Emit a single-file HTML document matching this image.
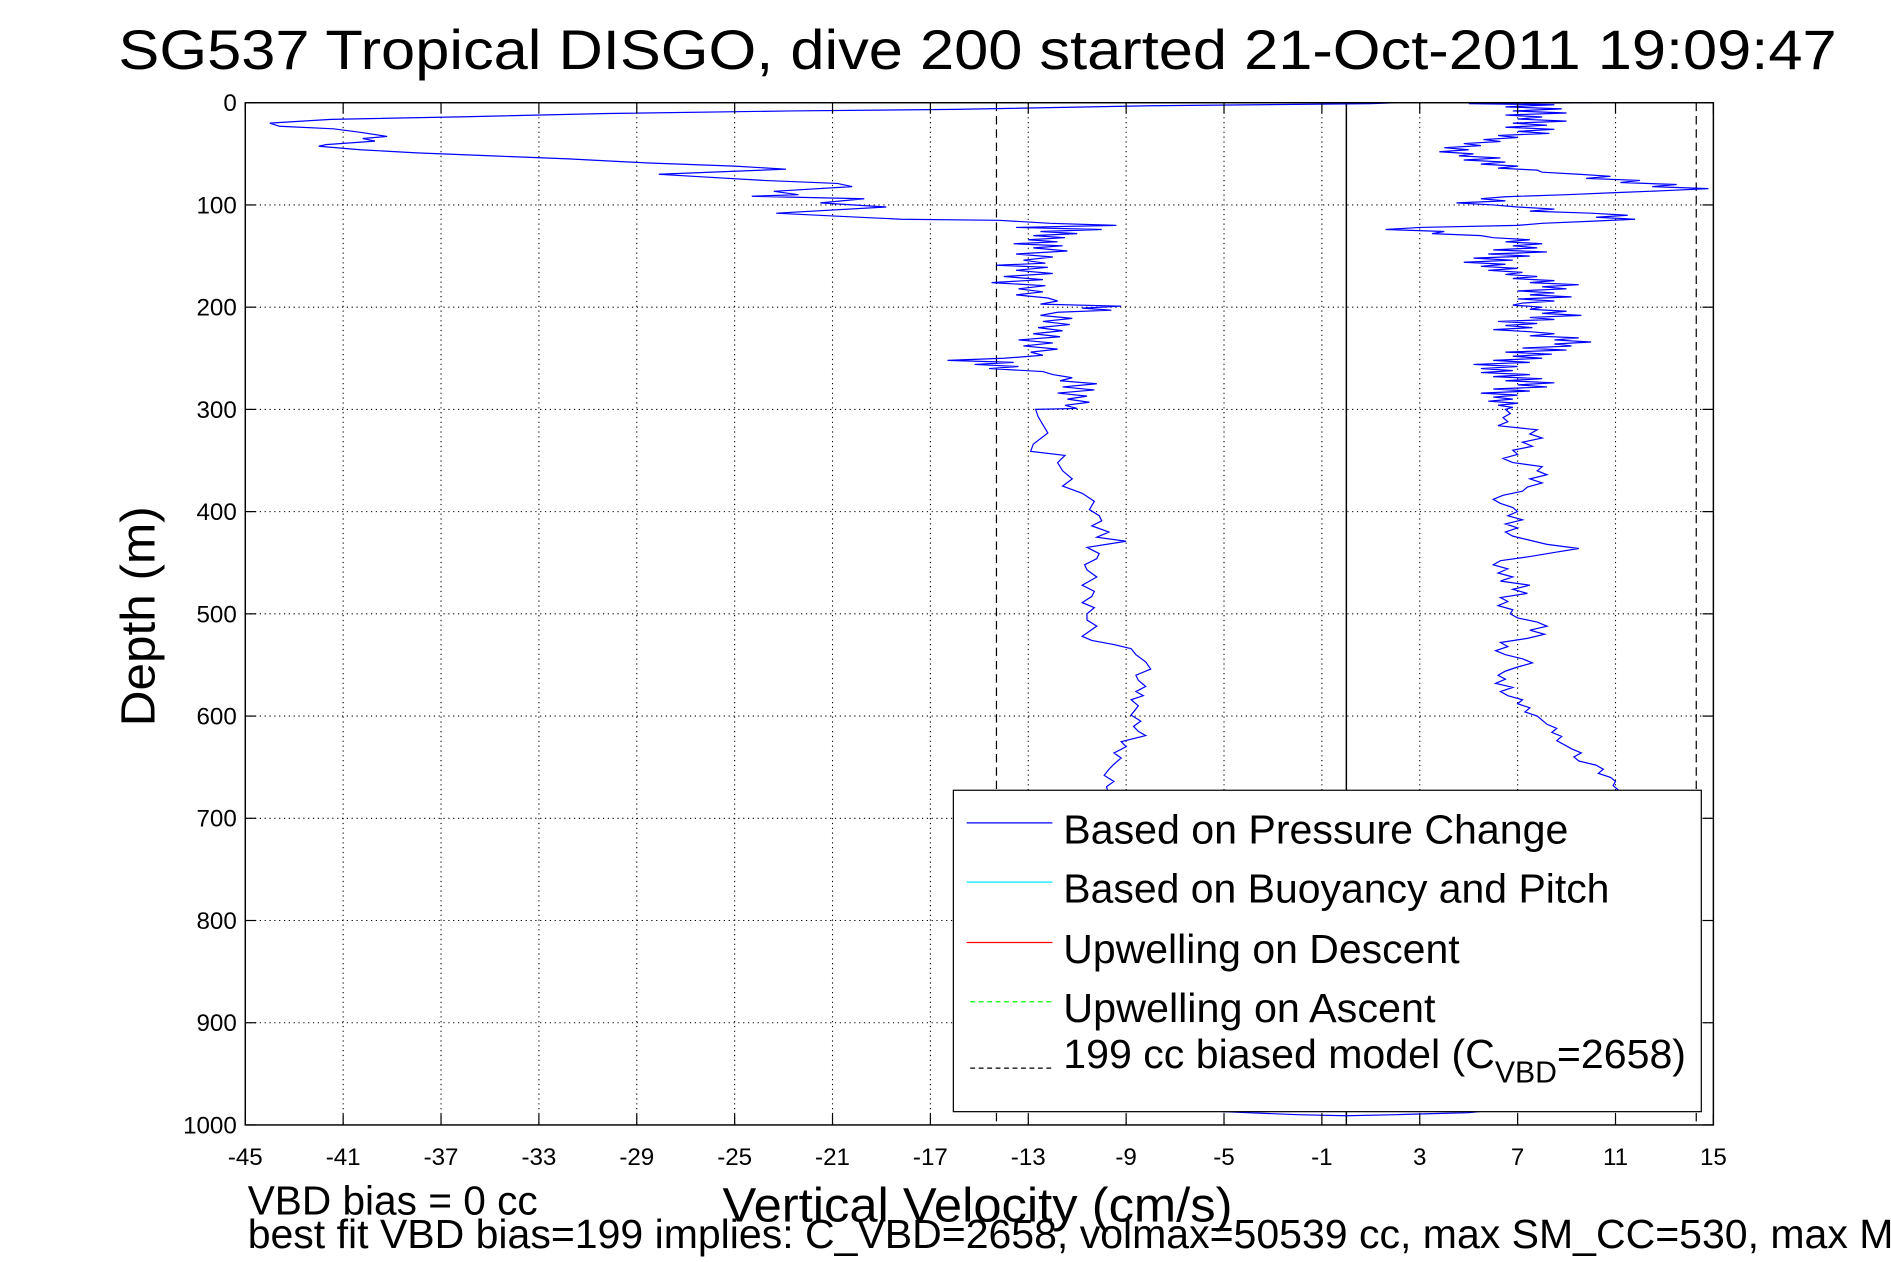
<!DOCTYPE html>
<html><head><meta charset="utf-8">
<style>
html,body{margin:0;padding:0;background:#fff;}
svg{display:block;font-family:"Liberation Sans",sans-serif;}
</style></head>
<body>
<svg id="chart" width="1891" height="1262" viewBox="0 0 1565 1044.4" xmlns="http://www.w3.org/2000/svg">
<rect x="0" y="0" width="1565" height="1044.4" fill="#fff"/>
<text x="98" y="57" font-size="46" textLength="1422" lengthAdjust="spacingAndGlyphs">SG537 Tropical DISGO, dive 200 started 21-Oct-2011 19:09:47</text>
<g id="grid"></g>
<g id="series"></g>
<g id="axes"></g>
<g id="legend">
<rect x="789" y="654" width="619" height="266" fill="#fff" stroke="#000" stroke-width="1"/>
<line x1="800" y1="681" x2="871" y2="681" stroke="#0000ff" stroke-width="1"/>
<text x="880" y="698" font-size="34" textLength="418" lengthAdjust="spacingAndGlyphs">Based on Pressure Change</text>
<line x1="800" y1="730" x2="871" y2="730" stroke="#00e5ff" stroke-width="1"/>
<text x="880" y="747" font-size="34" textLength="452" lengthAdjust="spacingAndGlyphs">Based on Buoyancy and Pitch</text>
<line x1="800" y1="780" x2="871" y2="780" stroke="#ff0000" stroke-width="1"/>
<text x="880" y="797" font-size="34" textLength="328" lengthAdjust="spacingAndGlyphs">Upwelling on Descent</text>
<line x1="803" y1="829" x2="871" y2="829" stroke="#00ff00" stroke-width="1" stroke-dasharray="4 3"/>
<text x="880" y="846" font-size="34" textLength="308" lengthAdjust="spacingAndGlyphs">Upwelling on Ascent</text>
<line x1="803" y1="884" x2="871" y2="884" stroke="#000" stroke-width="1" stroke-dasharray="4 3"/>
<text x="880" y="884" font-size="34">199 cc biased model (C<tspan font-size="25" dy="12">VBD</tspan><tspan dy="-12">=2658)</tspan></text>
</g>
<text transform="translate(128,510) rotate(-90)" text-anchor="middle" font-size="40" textLength="182" lengthAdjust="spacingAndGlyphs">Depth (m)</text>
<text x="598" y="1011" font-size="40" textLength="422" lengthAdjust="spacingAndGlyphs">Vertical Velocity (cm/s)</text>
<text x="205" y="1005" font-size="34" textLength="240" lengthAdjust="spacingAndGlyphs">VBD bias = 0 cc</text>
<text x="205" y="1033" font-size="34" textLength="1362" lengthAdjust="spacingAndGlyphs">best fit VBD bias=199 implies: C_VBD=2658, volmax=50539 cc, max SM_CC=530, max M</text>
</svg>
<script>
const xTicks = [-45,-41,-37,-33,-29,-25,-21,-17,-13,-9,-5,-1,3,7,11,15];
const yTicks = [0,100,200,300,400,500,600,700,800,900,1000];
const modelVel = [-14.3, 14.3];
const buoyancyVel = [0];
const descDepth = [0,1,3,6.5,8,10.5,13.7,16.3,20,23,25.5,29,33,35,37.6,41,42.5,46,49,52,55,59,62,65,70,72,76,79,82,86.6,90,91.5,94,98,102,108,111,114,115,118,120,
122,124,126,128,130,132,134,136,138,140,142,145,148,151,154,157,159,161,164,167,170,173,176,179,182,185,188,191,194,197,199,201,203,205,208,211,214,217,220,223,226,229,232,235,238,241,244,247,250,252,254,256,258,260,263,266,269,272,275,278,281,284,287,290,293,296,299,
300,307,315,323,334,341,345,352,360,368,375,382,390,398,404,409,414,420,425,429,435,441,446,452,457,464,472,478,483,489,494,500,506,512,517,522,526,530,534,540,547,554,560,565,571,576,580,584,590,599,605,610,615,619,625,630,636,641,647,652,658,664,669,
700,750,800,850,900,950,980,984,987,990,991];
const descVel = [2,1,-8,-16,-22.7,-30.2,-36,-41.5,-44,-43.6,-41.4,-40.3,-39.2,-40.2,-39.7,-41.7,-42,-40.3,-38,-34.9,-31.8,-28.5,-25,-22.9,-28.1,-26.7,-23.8,-20.8,-20.2,-23.4,-22.4,-24.3,-19.7,-21.5,-18.8,-23.3,-20.8,-18.2,-14.2,-12.1,-9.4,
-13.5,-10,-12.5,-11,-12.8,-11.5,-13,-11.8,-13.6,-11.6,-12.8,-11.4,-13.5,-12,-13.2,-12.3,-14.3,-12.2,-13.5,-12,-14,-12.4,-14.5,-12.3,-13.4,-12.4,-13.5,-12.2,-11.8,-12.5,-9.2,-10.8,-9.6,-11.8,-12.5,-11.2,-12.4,-11.3,-12.6,-11.6,-12.8,-11.7,-13.4,-12,-13.2,-11.8,-12.9,-12.4,-14,-16.3,-13.6,-15.2,-13.4,-14.6,-12.4,-12,-11.2,-11.7,-10.2,-11.6,-10.3,-11.8,-10.6,-11.4,-10.5,-11.5,-11,
-12.7,-12.6,-12.4,-12.2,-12.8,-12.9,-11.5,-11.8,-11.6,-11.2,-11.6,-10.8,-10.3,-10.5,-10.1,-10,-10.4,-9.7,-10.2,-9,-10.6,-10.1,-10.2,-10.7,-10.6,-10.2,-10.8,-10.3,-10.4,-10.8,-10.3,-10.6,-10.6,-10.2,-10.5,-10.8,-10.4,-9.5,-8.8,-8.6,-8.2,-8,-8.6,-8.5,-8.2,-8.6,-8.3,-8.8,-8.5,-8.8,-8.4,-8.7,-8.5,-8.2,-9.2,-9,-9.5,-9.2,-9.5,-9.7,-9.9,-9.5,-9.8,
-9.5,-9,-8.5,-8,-7.5,-7,-6.9,-6.9,-5,-2,0];
const ascDepth = [0,1,2,4,6,8,10,12,14,16,18,20,22,24,26,28,30,32,34,36,38,40,42,44,46,48,50,52,54,56,58,60,62,64,66,68,70,72,74,76,78,80,82,84,86,88,90,92,94,96,98,100,102,104,106,108,110,112,114,116,118,120,122,124,126,128,130,132,134,136,138,140,142,144,146,148,150,152,154,156,158,160,162,164,166,168,170,172,174,176,178,180,182,184,186,188,190,192,194,196,198,200,202,204,206,208,210,212,214,216,218,220,222,224,226,228,230,232,234,236,238,240,242,244,246,248,250,252,254,256,258,260,262,264,266,268,270,272,274,276,278,280,282,284,286,288,290,292,294,296,298,
300,304,308,312,316,320,324,328,332,336,340,344,348,352,356,360,364,368,372,376,380,384,388,392,396,400,404,408,412,416,420,424,428,432,436,440,444,448,452,456,460,464,468,472,476,480,484,488,492,496,500,504,508,512,516,520,524,528,532,536,540,544,548,552,556,560,564,568,572,576,580,584,588,592,596,600,604,608,612,616,620,624,628,632,636,640,644,648,652,656,660,664,668,672,
700,750,800,850,900,950,980,985,988,990,991];
const ascVel = [10,5,8.5,6.5,8.8,6.8,9,6.5,8,7,9,6.8,8.2,6.5,8.5,7,8.3,6.2,7,5.6,6.3,4.8,5.5,4,5,3.8,5.2,4.6,6.3,4.8,6.5,5.5,7,6.2,7.8,8,9.5,10.8,9.8,12,11.2,13.5,12.5,14.8,13,11,9,6.5,5.5,6.5,4.5,6,7,8.5,7.5,10,11.5,10.2,11.8,10,8,7,3,1.6,4,3.5,5.5,6,7.5,6.5,8,6.8,7.8,6,8.2,5.8,7.5,5.2,6.8,4.8,6.5,5.5,7,5.8,7.2,6.5,7.8,6.8,8.5,7.5,9.5,8,9,7,8.5,7.5,9.2,7,8.5,7.2,6.8,8,7.5,9,8,9.6,7.5,8.5,6.2,7.8,6.5,7.6,6,7.5,8.5,7.5,9.5,8.5,10,8.5,9.2,7.2,9,6.5,8.4,6.8,8,6,7.5,5.2,7,5.5,6.8,5.5,7.5,6,8,6.5,8.5,7,8.2,6,7.5,5.5,7,6,6.8,5.8,7,6.2,6.8,
6.5,6.7,6.4,6.6,6.2,7.8,7.5,8,7.2,7.6,6.8,7,6.4,6.8,8,7.8,8.2,7.5,8,7.4,7.2,6.4,6,6.3,6.8,7,6.6,7.2,6.5,7,6.5,6.8,7.5,8.2,9.5,8.5,7.5,6.3,6,6.6,6.2,6.8,6.3,7.5,6.8,7.4,6.3,6.6,6.2,6.8,6.7,7,7.8,8.2,7.5,8.1,7.4,6.3,6.6,6.1,6.5,7.2,7.6,7,6.5,6.2,6.5,6.1,6.8,6.3,6.6,7.2,7,7.5,7.3,7.8,8,8.2,8.6,8.4,8.8,8.6,8.9,9.2,9.6,9.3,9.5,10.2,10.5,10.3,10.8,11,10.9,11.1,
11.5,11,10.5,10,9,7.5,6.5,6.2,5,2,0];

const L=203,R=1418,T=85,B=931;
function xS(v){return L+(v+45)/60*(R-L);}
function yS(d){return T+d/1000*(B-T);}
const NS='http://www.w3.org/2000/svg';
function mk(tag,attrs,parent){const e=document.createElementNS(NS,tag);for(const k in attrs)e.setAttribute(k,attrs[k]);parent.appendChild(e);return e;}
const grid=document.getElementById('grid'),axes=document.getElementById('axes'),series=document.getElementById('series');

xTicks.forEach(v=>{
  const x=xS(v);
  if(v>-45&&v<15){const g=mk('line',{x1:x,y1:T,x2:x,y2:B,stroke:'#000','stroke-width':0.9,'stroke-dasharray':'1 3'},grid);
  
  }
  const t1=mk('line',{x1:x,y1:B,x2:x,y2:B-9,stroke:'#000','stroke-width':1},axes);
  
  
  const t2=mk('line',{x1:x,y1:T,x2:x,y2:T+9,stroke:'#000','stroke-width':1},axes);
  
  
  const lb=mk('text',{x:x,y:964,'text-anchor':'middle','font-size':20},axes);
  lb.textContent=String(v);
  
  
});
yTicks.forEach(d=>{
  const y=yS(d);
  if(d>0&&d<1000){const g=mk('line',{x1:L,y1:y,x2:R,y2:y,stroke:'#000','stroke-width':0.9,'stroke-dasharray':'1 3'},grid);
  
  }
  const t1=mk('line',{x1:L,y1:y,x2:L+9,y2:y,stroke:'#000','stroke-width':1},axes);
  
  
  const t2=mk('line',{x1:R,y1:y,x2:R-9,y2:y,stroke:'#000','stroke-width':1},axes);
  
  
  const lb=mk('text',{x:196,y:y+7,'text-anchor':'end','font-size':20},axes);
  lb.textContent=String(d);
  
  
});
const frame=mk('rect',{x:L,y:T,width:R-L,height:B-T,fill:'none',stroke:'#000','stroke-width':1.2},axes);



modelVel.forEach(v=>{
  const m=mk('line',{x1:xS(v),y1:T,x2:xS(v),y2:B,stroke:'#000','stroke-width':1,'stroke-dasharray':'7 4'},series);
  
  
});
buoyancyVel.forEach(v=>{
  const m=mk('line',{x1:xS(v),y1:T,x2:xS(v),y2:B,stroke:'#000','stroke-width':1.2},series);
  
  
});
function trace(dep,vel,name){
  const pts=dep.map((d,i)=>xS(vel[i]).toFixed(1)+','+yS(d).toFixed(1)).join(' ');
  const p=mk('polyline',{points:pts,fill:'none',stroke:'#0000ff','stroke-width':1},series);
  
  
}
trace(descDepth,descVel,'descent-pressure-velocity');
trace(ascDepth,ascVel,'ascent-pressure-velocity');
</script>
</body></html>
